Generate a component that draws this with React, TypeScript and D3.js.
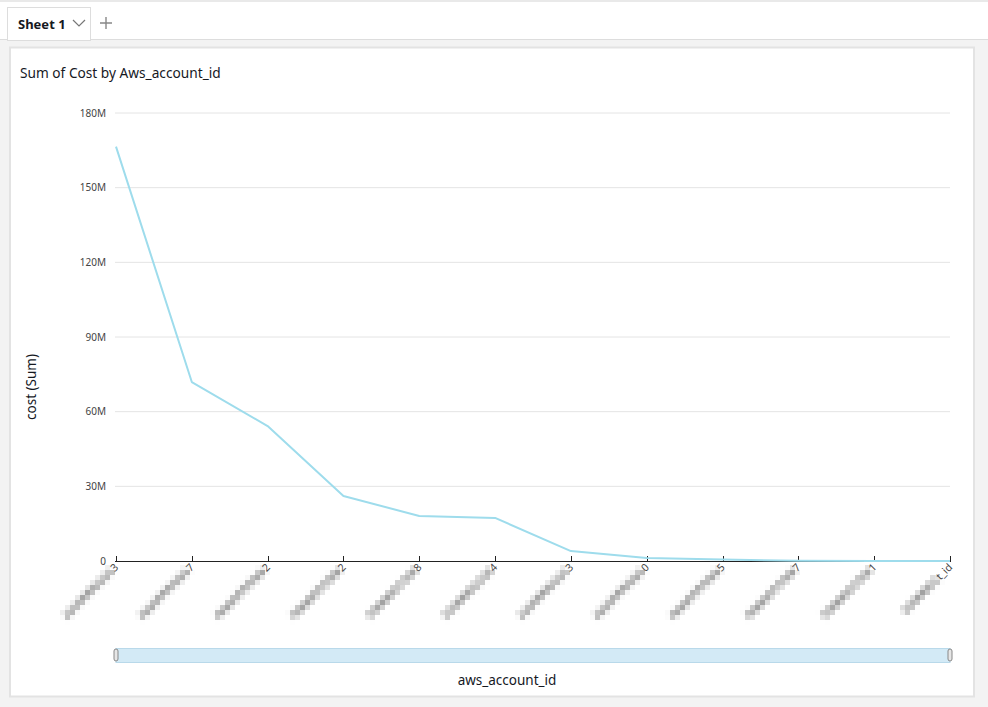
import React from "react";
import * as d3 from "d3";

const accountIds = [
  "XXXXXXXXXXX3", "XXXXXXXXXXX7", "XXXXXXXXXXX2", "XXXXXXXXXXX2",
  "XXXXXXXXXXX8", "XXXXXXXXXXX4", "XXXXXXXXXXX3", "XXXXXXXXXXX0",
  "XXXXXXXXXXX5", "XXXXXXXXXXX7", "XXXXXXXXXXX1", "XXXXXXXXt_id",
];
const costValues = [166.5e6, 71.9e6, 54.2e6, 26.1e6, 18.1e6, 17.3e6, 4.0e6, 1.2e6, 0.6e6, 0.1e6, 0.03e6, 0.01e6];
const yTicks = [0, 30e6, 60e6, 90e6, 120e6, 150e6, 180e6];
const clearSuffix = [1, 1, 1, 1, 1, 1, 1, 1, 1, 1, 1, 4];

const W = 988, H = 707;
const FONT = "'Noto Sans', 'Open Sans', sans-serif";

export default function App() {
  const x = d3.scalePoint<string>().domain(accountIds.map((d, i) => i + "")).range([116, 950]);
  const y = d3.scaleLinear().domain([0, 180e6]).range([561, 113]);
  const line = d3
    .line<number>()
    .x((_, i) => x(i + "") as number)
    .y((d) => y(d));
  const fmt = (v: number) => (v === 0 ? "0" : d3.format(".0f")(v / 1e6) + "M");

  return (
    <svg width={W} height={H} style={{ position: "fixed", left: 0, top: 0, fontFamily: FONT }}>
      <defs>
        <filter id="pix" filterUnits="userSpaceOnUse" primitiveUnits="userSpaceOnUse" x={0} y={0} width={W} height={H}>
          <feGaussianBlur in="SourceGraphic" stdDeviation={1.6} result="b" />
          <feFlood x={2} y={2} width={1} height={1} floodColor="#000" />
          <feComposite x={0} y={0} width={5} height={5} />
          <feTile result="a" />
          <feComposite in="b" in2="a" operator="in" />
          <feMorphology operator="dilate" radius={2} result="p" />
          <feComponentTransfer in="p">
            <feFuncA type="linear" slope={1.6} />
          </feComponentTransfer>
        </filter>
      </defs>
      {/* page background */}
      <rect x={0} y={0} width={W} height={H} fill="#f3f3f3" />
      {/* tab bar */}
      <rect x={0} y={0} width={W} height={39} fill="#ffffff" />
      <line x1={0} x2={W} y1={1} y2={1} stroke="#e2e2e2" strokeWidth={1.5} />
      <line x1={0} x2={W} y1={39.5} y2={39.5} stroke="#dddddd" />
      <rect x={7.5} y={7.5} width={83} height={33} fill="#ffffff" stroke="#dddddd" />
      <text x={18} y={29} fontSize={13} fontWeight="bold" fill="#16191f">Sheet 1</text>
      <path d="M73,20 L79,26 L85,20" fill="none" stroke="#777" strokeWidth={1.2} />
      <path d="M106,17 V29 M100,23 H112" fill="none" stroke="#888" strokeWidth={1.4} />
      {/* card */}
      <rect x={10} y={47.5} width={964} height={649} fill="#ffffff" stroke="#e3e3e3" strokeWidth={2} />
      <text x={20} y={78} fontSize={13.7} fill="#16191f">Sum of Cost by Aws_account_id</text>

      {/* grid + y ticks */}
      {yTicks.map((t) => (
        <g key={t}>
          {t > 0 && <line x1={115} x2={950} y1={y(t)} y2={y(t)} stroke="#e4e4e4" />}
          <text x={106} y={y(t) + 3.5} fontSize={10} textAnchor="end" fill="#444">{fmt(t)}</text>
        </g>
      ))}
      <text transform={`translate(36,${387}) rotate(-90)`} textAnchor="middle" fontSize={13.5} fill="#16191f">cost (Sum)</text>

      {/* x axis */}
      <line x1={115} x2={951} y1={561.5} y2={561.5} stroke="#222" strokeWidth={1.2} />
      {accountIds.map((d, i) => (
        <line key={"t" + i} x1={Math.round(x(i + "") as number) + 0.5} x2={Math.round(x(i + "") as number) + 0.5} y1={556} y2={561} stroke="#222" />
      ))}

      {/* redacted labels (pixelated) */}
      <g filter="url(#pix)">
        {accountIds.map((d, i) => {
          const px = x(i + "") as number;
          const n = clearSuffix[i];
          return (
            <text key={"l" + i} transform={`translate(${px + 3},${568}) rotate(-45)`} textAnchor="end" fontSize={10.5} fill="#666">
              {d.slice(0, d.length - n)}
              <tspan fill="none">{d.slice(d.length - n)}</tspan>
            </text>
          );
        })}
      </g>
      {accountIds.map((d, i) => {
        const px = x(i + "") as number;
        const n = clearSuffix[i];
        return (
          <text key={"c" + i} transform={`translate(${px + 3},${568}) rotate(-45)`} textAnchor="end" fontSize={10.5} fill="#444">
            <tspan fill="none">{d.slice(0, d.length - n)}</tspan>
            {d.slice(d.length - n)}
          </text>
        );
      })}

      {/* line */}
      <path d={line(costValues) || ""} fill="none" stroke="#9edcec" strokeWidth={2} strokeLinejoin="round" />

      {/* scroll bar */}
      <rect x={116} y={648.5} width={834} height={14} fill="#d3eaf6" stroke="#b9d9ea" />
      {[116, 950].map((hx) => (
        <rect key={hx} x={hx - 2} y={649} width={4} height={12} rx={2} fill="#e6e6e6" stroke="#888" strokeWidth={1} />
      ))}
      <text x={507} y={685} textAnchor="middle" fontSize={13.5} fill="#16191f">aws_account_id</text>
    </svg>
  );
}
